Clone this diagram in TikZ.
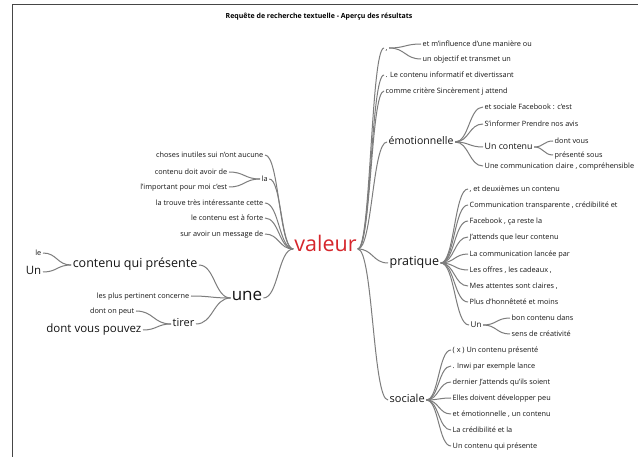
\documentclass[tikz,border=0pt]{standalone}
\usepackage{fontspec}
\setmainfont{Open Sans}
\usetikzlibrary{calc}
\definecolor{linegray}{RGB}{125,125,125}
\definecolor{txt}{RGB}{20,20,20}
\definecolor{valred}{RGB}{214,38,44}
\definecolor{framec}{RGB}{70,70,70}
\begin{document}
\begin{tikzpicture}[x=1pt,y=-1pt,
  wd/.style={inner sep=1.5pt, text=txt, text height=0.72em, text depth=0.2em, font=\fontsize{#1}{#1}\selectfont},
  sm/.style={wd=7.3},
  W/.style={anchor=west},
  E/.style={anchor=east},
  conn/.style={draw=linegray, line width=1pt},
  br/.style={to path={let \p1=(\tikztostart), \p2=(\tikztotarget), \n1={0.5*(\x2-\x1)} in .. controls +(\n1,0) and +(-\n1,0) .. (\tikztotarget)}}
]
\useasboundingbox (0,0) rectangle (638,457);
\fill[white] (0,0) rectangle (638,457);
\draw[framec, line width=1pt] (12,457) -- (12,5) -- (638,5);
\node[font=\fontsize{7}{8}\selectfont\bfseries, text=black] (title) at (319,17) {Requête de recherche textuelle - Aperçu des résultats};

% centre
\node[wd=21.5, text=valred, inner sep=1pt] (v) at (325.5,249) {valeur};

% right side
\node[sm,W] (c1) at (384,48) {,};
\node[sm,W] (c1a) at (421,44) {et m'influence d'une manière ou};
\node[sm,W] (c1b) at (421,59) {un objectif et transmet un};
\node[sm,W] (c2) at (384,75) {. Le contenu informatif et divertissant};
\node[sm,W] (c3) at (384,91) {comme critère Sincèrement j attend};

\node[wd=10.5,W] (emo) at (387,142) {émotionnelle};
\node[sm,W] (e1) at (483,107) {et sociale Facebook : c'est};
\node[sm,W] (e2) at (483,124) {S'informer Prendre nos avis};
\node[wd=8.8,W] (e3) at (483,147) {Un contenu};
\node[sm,W] (e3a) at (553,141) {dont vous};
\node[sm,W] (e3b) at (553,155) {présenté sous};
\node[sm,W] (e4) at (483,166) {Une communication claire , compréhensible};

\node[wd=12.5,W] (pra) at (388,263) {pratique};
\node[sm,W] (p1) at (468,189) {, et deuxièmes un contenu};
\node[sm,W] (p2) at (468,205) {Communication transparente , crédibilité et};
\node[sm,W] (p3) at (468,221) {Facebook , ça reste la};
\node[sm,W] (p4) at (468,237) {J'attends que leur contenu};
\node[sm,W] (p5) at (468,254) {La communication lancée par};
\node[sm,W] (p6) at (468,270) {Les offres , les cadeaux ,};
\node[sm,W] (p7) at (468,286) {Mes attentes sont claires ,};
\node[sm,W] (p8) at (468,302) {Plus d'honnêteté et moins};
\node[wd=8,W] (p9) at (469,325) {Un};
\node[sm,W] (p9a) at (510,318) {bon contenu dans};
\node[sm,W] (p9b) at (510,334) {sens de créativité};

\node[wd=11,W] (soc) at (388,400) {sociale};
\node[sm,W] (s1) at (451,350) {( x ) Un contenu présenté};
\node[sm,W] (s2) at (451,366) {. Inwi par exemple lance};
\node[sm,W] (s3) at (451,382) {dernier J'attends qu'ils soient};
\node[sm,W] (s4) at (451,398) {Elles doivent développer peu};
\node[sm,W] (s5) at (451,414) {et émotionnelle , un contenu};
\node[sm,W] (s6) at (451,430) {La crédibilité et la};
\node[sm,W] (s7) at (451,446) {Un contenu qui présente};

% left side
\node[sm,E] (l1) at (265,155) {choses inutiles sui n'ont aucune};
\node[sm,W] (l2) at (260,179) {la};
\node[sm,E] (l2a) at (229,172) {contenu doit avoir de};
\node[sm,E] (l2b) at (229,187) {l'important pour moi c'est};
\node[sm,E] (l3) at (265,203) {la trouve très intéressante cette};
\node[sm,E] (l4) at (265,218) {le contenu est à forte};
\node[sm,E] (l5) at (265,234) {sur avoir un message de};

\node[wd=17, inner sep=1pt] (une) at (247,298) {une};
\node[wd=12.5,E] (u1) at (199,265) {contenu qui présente};
\node[sm,E] (u1a) at (43,253) {le};
\node[wd=11.5,E] (u1b) at (43,272) {Un};
\node[sm,E] (u2) at (191,296) {les plus pertinent concerne};
\node[wd=11,E] (u3) at (196,324) {tirer};
\node[sm,E] (u3a) at (136,311) {dont on peut};
\node[wd=11.5,E] (u3b) at (143,330) {dont vous pouvez};

% connectors
\foreach \c in {c1,c2,c3,emo,pra,soc} \draw[conn] (v.east) to[br] (\c.west);
\foreach \c in {c1a,c1b} \draw[conn] (c1.east) to[br] (\c.west);
\foreach \c in {e1,e2,e3,e4} \draw[conn] (emo.east) to[br] (\c.west);
\foreach \c in {e3a,e3b} \draw[conn] (e3.east) to[br] (\c.west);
\foreach \c in {p1,p2,p3,p4,p5,p6,p7,p8,p9} \draw[conn] (pra.east) to[br] (\c.west);
\foreach \c in {p9a,p9b} \draw[conn] (p9.east) to[br] (\c.west);
\foreach \c in {s1,s2,s3,s4,s5,s6,s7} \draw[conn] (soc.east) to[br] (\c.west);
\foreach \c in {l1,l2,l3,l4,l5,une} \draw[conn] (\c.east) to[br] (v.west);
\foreach \c in {l2a,l2b} \draw[conn] (\c.east) to[br] (l2.west);
\foreach \c in {u1,u2,u3} \draw[conn] (\c.east) to[br] (une.west);
\foreach \c in {u1a,u1b} \draw[conn] (\c.east) to[br] (u1.west);
\foreach \c in {u3a,u3b} \draw[conn] (\c.east) to[br] (u3.west);
\end{tikzpicture}
\end{document}
